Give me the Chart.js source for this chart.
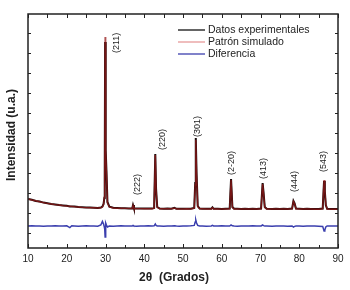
<!DOCTYPE html>
<html lang="es">
<head>
  <meta charset="UTF-8" />
  <title>DRX</title>
  <script src="https://cdn.jsdelivr.net/npm/chart.js"></script>
  <style>
    body {
      margin: 0;
      background: #fff;
    }
    #wrap {
      width: 350px;
      height: 290px;
    }
  </style>
</head>
<body>
  <div id="wrap"><canvas id="xrd"></canvas></div>

  <script>
    // 2theta (deg) and intensities (a.u.)
    const twoTheta = [10, 11, 12, 13, 14, 15, 16, 17, 18, 19, 20, 20.8, 21.3, 22, 23, 24, 25, 26, 27, 28,
      28.8, 29.2, 29.5, 29.7, 29.8, 29.9, 30.0, 30.1, 30.25, 30.5, 31, 32, 33, 34, 35, 36,
      36.9, 37.1, 37.35, 38, 39, 40, 41, 42, 42.55, 42.85, 43.05, 43.35, 44, 45, 46, 47,
      47.8, 48.3, 49, 50, 51, 52, 52.9, 53.15, 53.3, 53.5, 53.8, 54.3, 55, 56, 57.3, 57.6,
      57.9, 59, 60, 61, 62.05, 62.4, 62.75, 63.2, 64, 65, 66, 67, 68, 69, 70.15, 70.55,
      70.8, 71.1, 71.6, 73, 74, 75, 76, 77, 78.15, 78.5, 78.8, 79.15, 80, 81, 82, 83, 84,
      85, 86.05, 86.4, 86.6, 86.85, 87.2, 88, 89, 90];

    const experimental = [1.70, 1.66, 1.60, 1.57, 1.52, 1.49, 1.45, 1.43, 1.40, 1.38, 1.36, 1.33, 1.33, 1.32, 1.30, 1.29, 1.28, 1.27, 1.26, 1.25,
      1.27, 1.32, 1.45, 1.75, 2.60, 9.55, 5.80, 4.15, 3.10, 1.55, 1.32, 1.26, 1.25, 1.24, 1.24, 1.23,
      1.23, 1.40, 1.23, 1.23, 1.22, 1.22, 1.22, 1.22, 1.25, 3.95, 2.20, 1.30, 1.22, 1.21, 1.22, 1.21,
      1.26, 1.21, 1.21, 1.21, 1.21, 1.21, 1.25, 2.50, 4.75, 3.00, 1.35, 1.22, 1.21, 1.21, 1.21, 1.28,
      1.21, 1.21, 1.20, 1.21, 1.22, 2.70, 1.30, 1.21, 1.21, 1.20, 1.21, 1.20, 1.21, 1.20, 1.22, 2.50,
      2.00, 1.30, 1.21, 1.20, 1.21, 1.20, 1.21, 1.20, 1.22, 1.60, 1.48, 1.22, 1.21, 1.20, 1.21, 1.20, 1.20,
      1.20, 1.22, 2.60, 2.10, 1.40, 1.21, 1.20, 1.20, 1.20];

    const simulated = [1.70, 1.65, 1.61, 1.56, 1.52, 1.48, 1.45, 1.42, 1.40, 1.37, 1.35, 1.34, 1.33, 1.31, 1.30, 1.28, 1.27, 1.26, 1.26, 1.25,
      1.26, 1.30, 1.42, 1.80, 2.70, 9.80, 6.00, 4.10, 3.00, 1.50, 1.30, 1.25, 1.24, 1.24, 1.23, 1.23,
      1.22, 1.38, 1.22, 1.22, 1.22, 1.21, 1.21, 1.21, 1.24, 3.90, 2.10, 1.28, 1.21, 1.21, 1.21, 1.21,
      1.24, 1.21, 1.20, 1.20, 1.21, 1.20, 1.24, 2.40, 4.65, 2.90, 1.32, 1.21, 1.21, 1.20, 1.20, 1.26,
      1.20, 1.20, 1.20, 1.20, 1.21, 2.65, 1.28, 1.20, 1.20, 1.20, 1.20, 1.20, 1.20, 1.20, 1.21, 2.45,
      1.95, 1.28, 1.20, 1.20, 1.20, 1.20, 1.20, 1.20, 1.21, 1.58, 1.46, 1.21, 1.20, 1.20, 1.20, 1.20, 1.19,
      1.19, 1.21, 2.65, 2.15, 1.42, 1.20, 1.19, 1.19, 1.19];

    const difference = [0.35, 0.36, 0.35, 0.35, 0.34, 0.35, 0.35, 0.36, 0.35, 0.35, 0.36, 0.27, 0.36, 0.35, 0.34, 0.35, 0.36, 0.35, 0.35, 0.34,
      0.40, 0.58, 0.45, 0.30, 0.20, -0.20, 0.00, 0.50, 0.40, 0.30, 0.35, 0.34, 0.35, 0.36, 0.35, 0.35,
      0.35, 0.38, 0.35, 0.34, 0.35, 0.35, 0.36, 0.35, 0.36, 0.45, 0.38, 0.35, 0.35, 0.34, 0.35, 0.35,
      0.36, 0.35, 0.34, 0.35, 0.35, 0.36, 0.38, 0.55, 0.65, 0.50, 0.38, 0.35, 0.35, 0.34, 0.35, 0.38,
      0.35, 0.35, 0.36, 0.35, 0.35, 0.40, 0.36, 0.35, 0.34, 0.35, 0.35, 0.35, 0.36, 0.35, 0.35, 0.40,
      0.37, 0.35, 0.35, 0.34, 0.35, 0.35, 0.35, 0.34, 0.35, 0.30, 0.33, 0.35, 0.35, 0.34, 0.35, 0.35, 0.35,
      0.34, 0.33, 0.10, 0.15, 0.30, 0.35, 0.35, 0.35, 0.35];

    // reflections (hkl) and where their labels sit, in data units
    const peakNames = ['(211)', '(222)', '(220)', '(301)', '(2-20)', '(413)', '(444)', '(543)'];
    const peakLabelX = [32.9, 38.3, 44.8, 53.65, 62.4, 70.7, 78.9, 86.2];
    const peakLabelY = [9.0, 1.9, 4.15, 4.8, 2.9, 2.7, 2.05, 3.05];

    const xTicks = [10, 20, 30, 40, 50, 60, 70, 80, 90];

    function pts(ys) {
      return twoTheta.map((x, i) => ({ x: x, y: ys[i] }));
    }

    const ink = '#222';

    // frame, inward ticks, peak labels, legend and axis titles
    const decorations = {
      id: 'decorations',
      afterDraw(chart) {
        const ctx = chart.ctx;
        const a = chart.chartArea;
        const xs = chart.scales.x;
        const ys = chart.scales.y;
        ctx.save();

        ctx.strokeStyle = ink;
        ctx.lineWidth = 1.5;
        ctx.strokeRect(a.left, a.top, a.right - a.left, a.bottom - a.top);

        ctx.lineWidth = 1;
        ctx.beginPath();
        for (let v = 10; v <= 90; v += 5) {
          const px = Math.round(xs.getPixelForValue(v)) + 0.5;
          const len = v % 10 === 0 ? 4 : 3;
          ctx.moveTo(px, a.bottom);
          ctx.lineTo(px, a.bottom - len);
          ctx.moveTo(px, a.top);
          ctx.lineTo(px, a.top + 4);
        }
        for (let v = 0; v <= 10; v++) {
          const py = Math.round(ys.getPixelForValue(v)) + 0.5;
          ctx.moveTo(a.left, py);
          ctx.lineTo(a.left + 3, py);
          ctx.moveTo(a.right, py);
          ctx.lineTo(a.right - 3, py);
        }
        ctx.stroke();

        // hkl labels, rotated
        ctx.fillStyle = ink;
        ctx.font = '9px "Liberation Sans", Arial, sans-serif';
        ctx.textAlign = 'left';
        ctx.textBaseline = 'middle';
        peakNames.forEach((name, i) => {
          ctx.save();
          ctx.translate(xs.getPixelForValue(peakLabelX[i]), ys.getPixelForValue(peakLabelY[i]));
          ctx.rotate(-Math.PI / 2);
          ctx.fillText(name, 0, 0);
          ctx.restore();
        });

        // legend
        ctx.font = '10.5px "Liberation Sans", Arial, sans-serif';
        const lx = a.right - 160;
        chart.data.datasets.forEach((ds, i) => {
          const ly = a.top + 16 + i * 12;
          ctx.strokeStyle = ds.legendColor;
          ctx.lineWidth = 1.3;
          ctx.beginPath();
          ctx.moveTo(lx, ly);
          ctx.lineTo(lx + 27, ly);
          ctx.stroke();
          ctx.fillText(ds.label, lx + 30, ly);
        });

        // axis titles
        ctx.font = 'bold 12px "Liberation Sans", Arial, sans-serif';
        ctx.textAlign = 'center';
        ctx.fillText('2θ  (Grados)', 174, 278);
        ctx.save();
        ctx.translate(12, 135);
        ctx.rotate(-Math.PI / 2);
        ctx.fillText('Intensidad (u.a.)', 0, 0);
        ctx.restore();

        ctx.restore();
      }
    };

    new Chart(document.getElementById('xrd'), {
      type: 'line',
      data: {
        datasets: [
          {
            label: 'Datos experimentales',
            data: pts(experimental),
            borderColor: '#1a0a0a',
            legendColor: '#111',
            borderWidth: 2,
            pointRadius: 0,
            tension: 0,
            order: 2
          },
          {
            label: 'Patrón simulado',
            data: pts(simulated),
            borderColor: 'rgba(150, 25, 25, 0.75)',
            legendColor: '#e79a9a',
            borderWidth: 1.4,
            pointRadius: 0,
            tension: 0,
            order: 1
          },
          {
            label: 'Diferencia',
            data: pts(difference),
            borderColor: '#3b3fae',
            legendColor: '#3b3fae',
            borderWidth: 1.5,
            pointRadius: 0,
            tension: 0,
            order: 0
          }
        ]
      },
      options: {
        responsive: true,
        maintainAspectRatio: false,
        animation: false,
        layout: {
          padding: { top: 14, right: 12, left: 0, bottom: 0 }
        },
        plugins: {
          legend: { display: false },
          tooltip: { enabled: false }
        },
        scales: {
          x: {
            type: 'linear',
            min: 10,
            max: 90,
            afterFit(scale) { scale.height = 42; },
            afterBuildTicks(scale) { scale.ticks = xTicks.map(v => ({ value: v })); },
            grid: { display: false, drawTicks: false },
            border: { display: false },
            ticks: {
              color: ink,
              padding: 5,
              autoSkip: false,
              maxRotation: 0,
              font: { family: '"Liberation Sans", Arial, sans-serif', size: 10 }
            }
          },
          y: {
            min: -0.75,
            max: 10.95,
            afterFit(scale) { scale.width = 28; },
            grid: { display: false, drawTicks: false },
            border: { display: false },
            ticks: { display: false }
          }
        }
      },
      plugins: [decorations]
    });
  </script>
</body>
</html>
